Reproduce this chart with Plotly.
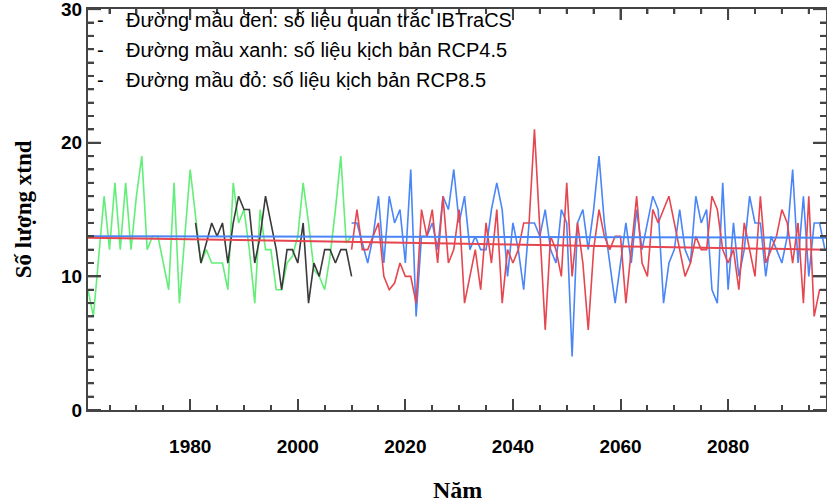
import plotly.graph_objects as go

# ---- data ----
green_years = list(range(1961, 2011))
green_vals = [9, 7, 11.5, 16, 12, 17, 12, 17, 12, 16,
              19, 12, 13, 13, 11, 9, 17, 8, 13, 18,
              14.5, 11, 12, 11, 11, 11, 9, 17, 14, 15,
              12, 8, 15, 12, 12, 9, 9, 11, 11.5, 13,
              17, 14, 10.5, 10, 9, 11.5, 15, 19, 12.5, 13]

black_years = list(range(1981, 2011))
black_vals = [14, 11, 12.5, 14, 13, 14, 11, 14, 16, 15,
              15, 11, 13, 16, 14, 12, 9, 12, 12, 11,
              14, 8, 11, 10, 12, 12, 11, 12, 12, 10]

scen_years = list(range(2010, 2099))
rcp45_vals = [14, 14, 12.5, 11, 13, 16, 11, 16, 14, 15,
              11, 18, 7, 13, 13, 14, 12, 16, 15, 18,
              14, 16, 12, 13, 12, 12, 15, 17, 15, 10,
              14, 12, 9, 14, 14, 13, 15, 12, 11, 15,
              14, 4, 14, 15, 12, 15, 19, 14, 11, 8,
              11, 14, 11, 15, 12, 14, 16, 15, 8, 11,
              12, 15, 12, 11, 16, 14, 15, 9, 8, 17,
              9, 14, 10, 12, 16, 14, 14, 10, 13, 12,
              11, 13, 18, 11, 16, 10, 14, 14, 12]
rcp85_vals = [12, 15, 12, 12, 13, 14, 10, 9, 9.5, 11,
              10, 10, 8, 15, 13, 15, 11, 16, 11, 12,
              15, 8, 10, 12, 9, 14, 11, 15, 8, 12,
              11, 12, 14, 14, 21, 13, 6, 13, 12, 10,
              17, 10, 14, 11, 6, 12, 15, 13, 12, 13,
              13, 8, 12, 16, 11, 10, 15, 14, 15, 16,
              14, 12, 10, 11, 13, 12, 12, 16, 15, 12,
              11, 12, 9, 14, 12, 10, 16, 11, 12, 13,
              15, 14, 11, 14, 8, 16, 7, 9, 9]

trend_years = [1961, 2098.2]
rcp45_trend = [13.0, 12.9]
rcp85_trend = [12.9, 12.0]

legend_lines = [
    "Đường mầu đen: số liệu quan trắc IBTraCS",
    "Đường mầu xanh: số liệu kịch bản RCP4.5",
    "Đường mầu đỏ: số liệu kịch bản RCP8.5",
]

GREEN = "#63EE78"
BLACK = "#3a3a3a"
BLUE = "#4A86F7"
RED = "#E5464F"

fig = go.Figure()
fig.add_trace(go.Scatter(x=green_years, y=green_vals, mode="lines",
                         line=dict(color=GREEN, width=1.6)))
fig.add_trace(go.Scatter(x=black_years, y=black_vals, mode="lines",
                         line=dict(color=BLACK, width=1.6)))
fig.add_trace(go.Scatter(x=scen_years, y=rcp45_vals, mode="lines",
                         line=dict(color=BLUE, width=1.6)))
fig.add_trace(go.Scatter(x=scen_years, y=rcp85_vals, mode="lines",
                         line=dict(color=RED, width=1.6)))
fig.add_trace(go.Scatter(x=trend_years, y=rcp45_trend, mode="lines",
                         line=dict(color=BLUE, width=2)))
fig.add_trace(go.Scatter(x=trend_years, y=rcp85_trend, mode="lines",
                         line=dict(color=RED, width=2)))

axis_col = "#444444"
tickfont = dict(family="Arial, Liberation Sans, sans-serif", size=19, color="black",
                weight="bold")

PLOT_W, PLOT_H = 738, 401

fig.update_layout(
    width=827, height=503, autosize=False,
    margin=dict(l=88, r=1, t=9, b=93),
    paper_bgcolor="white", plot_bgcolor="white",
    showlegend=False,
    xaxis=dict(range=[1961, 2098.2], tickmode="linear", tick0=1980, dtick=20,
               ticks="inside", ticklen=11, tickwidth=2, tickcolor=axis_col,
               minor=dict(dtick=5, tick0=1960, ticks="inside", ticklen=5,
                          tickcolor=axis_col),
               showline=True, linecolor=axis_col, linewidth=2, mirror="ticks",
               showgrid=False, zeroline=False, tickfont=tickfont,
               ticklabelstandoff=18, automargin=False),
    yaxis=dict(range=[0, 30.01], tickmode="linear", tick0=0, dtick=10,
               ticks="inside", ticklen=13, tickwidth=2, tickcolor=axis_col,
               minor=dict(dtick=1, tick0=0, ticks="inside", ticklen=6,
                          tickcolor=axis_col),
               showline=True, linecolor=axis_col, linewidth=2, mirror="ticks",
               showgrid=False, zeroline=False, tickfont=tickfont,
               automargin=False, ticklabeloverflow="allow"),
)

# inside tick marks drawn explicitly on the left/right (y) and top (x) frame edges
tick_line = dict(color=axis_col, width=2)
for v in range(0, 31):
    frac = (13 if v % 10 == 0 else 6) / PLOT_W
    fig.add_shape(type="line", xref="paper", yref="y", x0=0, x1=frac, y0=v, y1=v,
                  line=tick_line, layer="above")
    fig.add_shape(type="line", xref="paper", yref="y", x0=1, x1=1 - frac, y0=v, y1=v,
                  line=tick_line, layer="above")
for yr in range(1965, 2099, 5):
    frac = (11 if yr % 20 == 0 else 5) / PLOT_H
    fig.add_shape(type="line", xref="x", yref="paper", x0=yr, x1=yr, y0=1, y1=1 - frac,
                  line=tick_line, layer="above")

# axis titles
fig.add_annotation(text="<b>Năm</b>", xref="paper", yref="paper", x=0.5, y=-0.2,
                   xanchor="center", yanchor="middle", showarrow=False,
                   font=dict(family="Liberation Serif, Times New Roman, serif", size=24, color="black"))
fig.add_annotation(text="<b>Số lượng xtnd</b>", xref="paper", yref="paper", x=-0.087, y=0.5,
                   xanchor="center", yanchor="middle", textangle=-90, showarrow=False,
                   font=dict(family="Liberation Serif, Times New Roman, serif", size=23, color="black"))

# legend text block
for i, line in enumerate(legend_lines):
    ypos = 1 - (11 + 30 * i) / PLOT_H
    fig.add_annotation(text="-", xref="paper", yref="paper", x=12 / PLOT_W, y=ypos,
                       xanchor="center", yanchor="middle", showarrow=False,
                       font=dict(family="Arial, Liberation Sans, sans-serif", size=20, color="black"))
    fig.add_annotation(text=line, xref="paper", yref="paper", x=36 / PLOT_W, y=ypos,
                       xanchor="left", yanchor="middle", showarrow=False,
                       font=dict(family="Arial, Liberation Sans, sans-serif", size=20, color="black"))

post = ("document.body.style.margin='0';document.body.style.padding='0';"
        "var gd=document.getElementById('{plot_id}');"
        "Plotly.relayout(gd,{width:827,height:503});")
fig.write_html("out.html", config={"responsive": False, "displayModeBar": False},
               default_width="827px", default_height="503px", post_script=post)
